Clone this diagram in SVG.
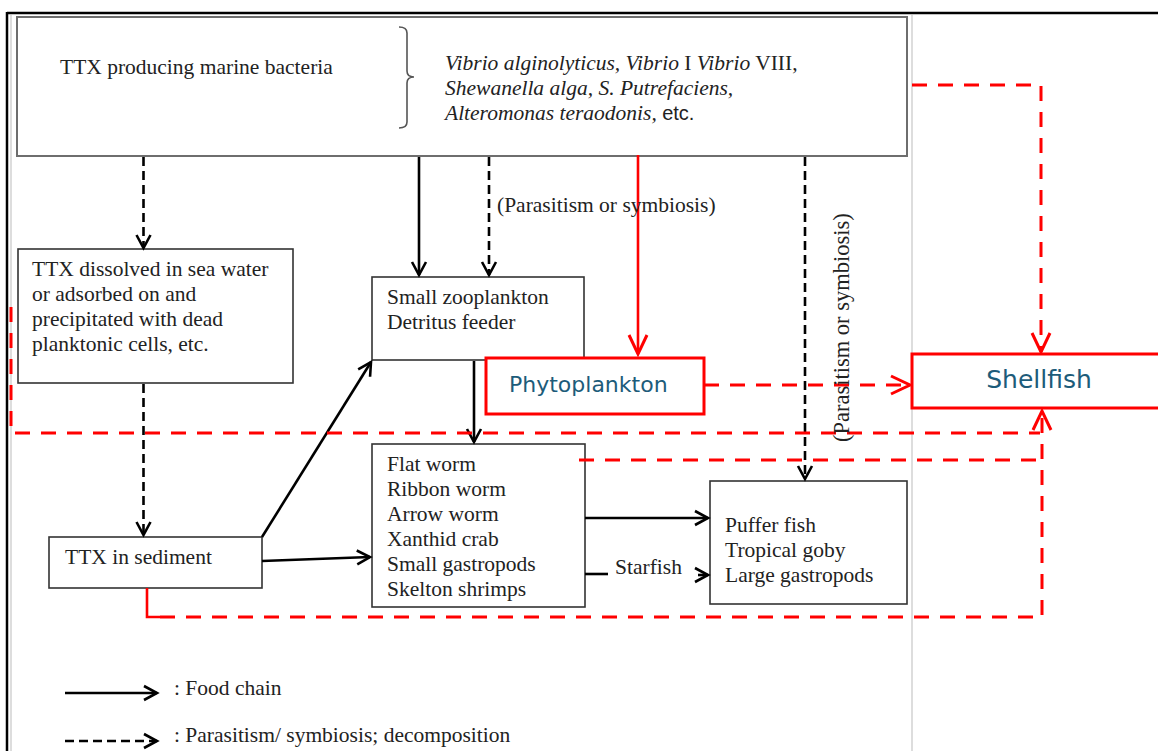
<svg xmlns="http://www.w3.org/2000/svg" width="1158" height="751" viewBox="0 0 1158 751">
<style>
.t{font-family:"Liberation Serif","Times New Roman",serif;font-size:21.5px;fill:#222}
.it{font-style:italic}
.box{fill:#fff;stroke:#333;stroke-width:1.6}
.gbox{fill:#fff;stroke:#6e6e6e;stroke-width:2}
.rbox{fill:#fff;stroke:#f00;stroke-width:3}
.st{font-family:"DejaVu Sans",Verdana,sans-serif;fill:#1d5c7a}
.bk{fill:none;stroke:#000;stroke-width:2.6}
.bd{fill:none;stroke:#000;stroke-width:2.6;stroke-dasharray:9 5}
.rs{fill:none;stroke:#f00;stroke-width:2.6}
.rd{fill:none;stroke:#f00;stroke-width:3;stroke-dasharray:15 11}
</style>
<defs>
<marker id="ab" markerUnits="userSpaceOnUse" markerWidth="30" markerHeight="30" viewBox="-15 -15 30 30" refX="0" refY="0" orient="auto" overflow="visible">
<path d="M-13,-7 L0,0 L-13,7" fill="none" stroke="#000" stroke-width="2.6"/>
</marker>
<marker id="ar" markerUnits="userSpaceOnUse" markerWidth="40" markerHeight="40" viewBox="-20 -20 40 40" refX="0" refY="0" orient="auto" overflow="visible">
<path d="M-19,-9 L0,0 L-19,9" fill="none" stroke="#f00" stroke-width="3"/>
</marker>
</defs>
<rect width="1158" height="751" fill="#fff"/>
<g id="frame">
<line x1="7" y1="13" x2="1158" y2="13" stroke="#000" stroke-width="2.5"/>
<line x1="7" y1="12" x2="7" y2="751" stroke="#000" stroke-width="2.5"/>
<line x1="11" y1="14" x2="11" y2="751" stroke="#bbb" stroke-width="1"/>
<line x1="912" y1="14" x2="912" y2="751" stroke="#bbb" stroke-width="1"/>
</g>
<g id="bacteria">
<rect class="gbox" x="17" y="17" width="890" height="139"/>
<text class="t" x="60" y="74">TTX producing marine bacteria</text>
<path d="M399,27 Q407,27 407,33 V71 Q407,77 414,77 Q407,77 407,83 V122 Q407,128 399,128" fill="none" stroke="#555" stroke-width="1.6"/>
<text class="t" x="445" y="70"><tspan class="it">Vibrio alginolyticus, Vibrio</tspan> I <tspan class="it">Vibrio</tspan> VIII,</text>
<text class="t it" x="445" y="95">Shewanella alga, S. Putrefaciens,</text>
<text class="t" x="445" y="120"><tspan class="it">Alteromonas teraodonis,</tspan> <tspan style="font-family:'Liberation Sans',Arial,sans-serif;font-size:20px">etc.</tspan></text>
</g>
<g id="dissolved">
<rect class="box" x="18" y="249" width="275" height="134"/>
<text class="t" x="32" y="276">TTX dissolved in sea water</text>
<text class="t" x="32" y="301">or adsorbed on and</text>
<text class="t" x="32" y="326">precipitated with dead</text>
<text class="t" x="32" y="351">planktonic cells, etc.</text>
</g>
<g id="zooplankton">
<rect class="box" x="372" y="277" width="212" height="83"/>
<text class="t" x="387" y="304">Small zooplankton</text>
<text class="t" x="387" y="329">Detritus feeder</text>
</g>
<g id="sediment">
<rect class="box" x="49" y="537" width="213" height="51"/>
<text class="t" x="65" y="564">TTX in sediment</text>
</g>
<g id="worms">
<rect class="box" x="372" y="444" width="213" height="163"/>
<text class="t" x="387" y="471">Flat worm</text>
<text class="t" x="387" y="496">Ribbon worm</text>
<text class="t" x="387" y="521">Arrow worm</text>
<text class="t" x="387" y="546">Xanthid crab</text>
<text class="t" x="387" y="571">Small gastropods</text>
<text class="t" x="387" y="596">Skelton shrimps</text>
</g>
<g id="puffer">
<rect class="box" x="710" y="481" width="197" height="123"/>
<text class="t" x="725" y="532">Puffer fish</text>
<text class="t" x="725" y="557">Tropical goby</text>
<text class="t" x="725" y="582">Large gastropods</text>
</g>
<g id="connectors">
<line class="bd" x1="143.5" y1="157" x2="143.5" y2="248" marker-end="url(#ab)"/>
<line class="bk" x1="419" y1="157" x2="419" y2="275" marker-end="url(#ab)"/>
<line class="bd" x1="489" y1="157" x2="489" y2="275" marker-end="url(#ab)"/>
<line class="bd" x1="805" y1="157" x2="805" y2="479" marker-end="url(#ab)"/>
<line class="bd" x1="143.5" y1="384" x2="143.5" y2="535" marker-end="url(#ab)"/>
<line class="bk" x1="474" y1="361" x2="474" y2="442" marker-end="url(#ab)"/>
<line class="bk" x1="262" y1="537" x2="371" y2="362" marker-end="url(#ab)"/>
<line class="bk" x1="262" y1="561" x2="370" y2="557" marker-end="url(#ab)"/>
<line class="bk" x1="585" y1="518" x2="708" y2="518" marker-end="url(#ab)"/>
<line class="bk" x1="585" y1="574" x2="608" y2="574"/>
<line class="bk" x1="698" y1="575" x2="708" y2="575" marker-end="url(#ab)"/>
<line class="rs" x1="638" y1="155" x2="638" y2="354" marker-end="url(#ar)"/>
<path class="rd" d="M912,85 H1041 V352" marker-end="url(#ar)"/>
<line class="rd" x1="704" y1="385" x2="910" y2="385" marker-end="url(#ar)"/>
<path class="rd" d="M11,307 V433 H1040"/>
<line class="rd" x1="579" y1="460" x2="1040" y2="460"/>
<path class="rs" d="M147,588 V617 H160"/>
<path class="rd" d="M160,617 H1042 V411" marker-end="url(#ar)"/>
<text class="t" x="497" y="212">(Parasitism or symbiosis)</text>
<text class="t" transform="translate(849,442) rotate(-90)" style="font-size:22.5px">(Parasitism or symbiosis)</text>
<text class="t" x="615" y="574">Starfish</text>
</g>
<g id="phytoplankton">
<rect class="rbox" x="486" y="358" width="218" height="56"/>
<text class="st" x="509" y="392" style="font-size:22px">Phytoplankton</text>
</g>
<g id="shellfish">
<rect class="rbox" x="912" y="354" width="250" height="54"/>
<text class="st" x="1039" y="388" text-anchor="middle" style="font-size:25px">Shellfish</text>
</g>
<g id="legend">
<line class="bk" x1="65" y1="693" x2="157" y2="693" marker-end="url(#ab)"/>
<text class="t" x="174" y="695">: Food chain</text>
<line class="bd" x1="65" y1="741" x2="157" y2="741" marker-end="url(#ab)"/>
<text class="t" x="174" y="742">: Parasitism/ symbiosis; decomposition</text>
</g>
</svg>
